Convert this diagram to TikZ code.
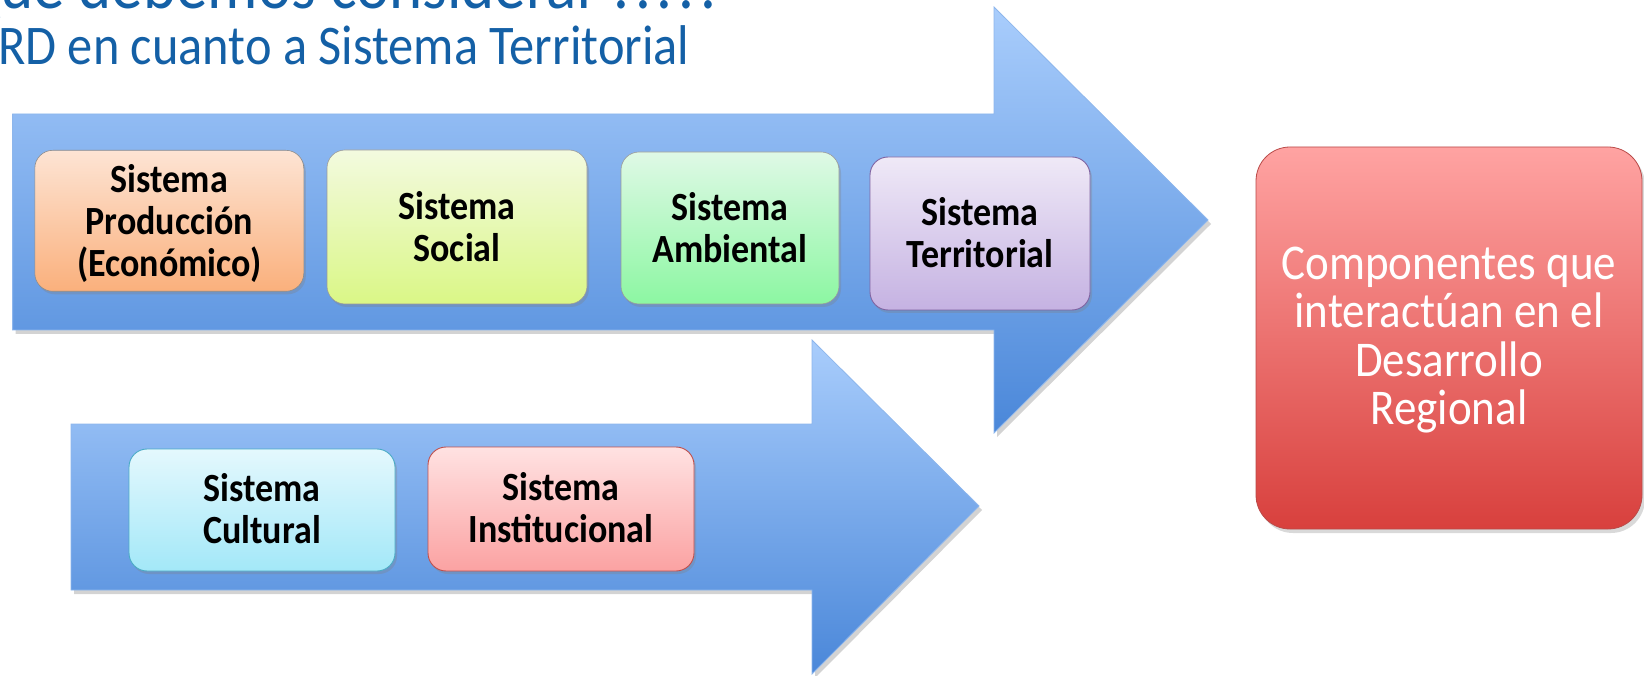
\documentclass[tikz,border=0pt]{standalone}
\usepackage{fontspec}
\setmainfont{Carlito}
\newfontfamily\cf[FakeStretch=0.9]{Carlito}
\usetikzlibrary{shadows}
\definecolor{titleblue}{HTML}{1460A6}
\definecolor{arrowtop}{HTML}{A9CDFC}
\definecolor{arrowbot}{HTML}{4A87D9}
\definecolor{arrowedge}{HTML}{8DB6EC}
\definecolor{prodtop}{HTML}{FDE4D4}
\definecolor{prodbot}{HTML}{FAB07C}
\definecolor{soctop}{HTML}{F3FADF}
\definecolor{socbot}{HTML}{DAF786}
\definecolor{ambtop}{HTML}{DFF9E6}
\definecolor{ambbot}{HTML}{8CF7A2}
\definecolor{tertop}{HTML}{EFE9F7}
\definecolor{terbot}{HTML}{C5B2E2}
\definecolor{teredge}{HTML}{8064A2}
\definecolor{cultop}{HTML}{E4F8FD}
\definecolor{culbot}{HTML}{A3E8F8}
\definecolor{culedge}{HTML}{4BACC6}
\definecolor{insttop}{HTML}{FFE2E2}
\definecolor{instbot}{HTML}{FBA2A2}
\definecolor{instedge}{HTML}{C0504D}
\definecolor{comptop}{HTML}{FFA3A2}
\definecolor{compbot}{HTML}{D8403D}
\definecolor{compedge}{HTML}{B94A48}
\newcommand{\spdots}{.\kern6pt.\kern6pt.\kern6pt.\kern6pt.}
\begin{document}
\begin{tikzpicture}[x=1pt,y=-1pt,
  bigarrow/.style={top color=arrowtop, bottom color=arrowbot, draw=arrowedge, line width=0.8pt,
    drop shadow={shadow xshift=3pt,shadow yshift=-4pt,opacity=0.35}},
  sysbox/.style={rounded corners=18pt, inner sep=0pt,
    drop shadow={shadow xshift=2pt,shadow yshift=-3pt,opacity=0.3}},
  boxtext/.style={align=center, inner sep=0pt,
    font=\cf\bfseries\fontsize{40}{42}\selectfont, text=black},
  compbox/.style={rounded corners=34pt, inner sep=0pt,
    top color=comptop, bottom color=compbot, draw=compedge, line width=0.8pt,
    drop shadow={shadow xshift=3pt,shadow yshift=-4pt,opacity=0.3}},
  comptext/.style={align=center, inner sep=0pt,
    font=\cf\fontsize{50}{48.5}\selectfont, text=white},
  titletext/.style={anchor=base west, inner sep=0pt, text=titleblue}
]
\useasboundingbox (0,0) rectangle (1644,676);

% titles
\node[titletext, font=\cf\fontsize{70}{80}\selectfont] (t1) at (0,9) {\llap{¿Q}ué debemos considerar \spdots};
\node[titletext, font=\cf\fontsize{56}{60}\selectfont] (t2) at (-2,65) {RD en cuanto a Sistema Territorial};

% arrows
\path[bigarrow] (12.6,114) -- (994,114) -- (994,7) -- (1208,220) -- (994,433) -- (994,330) -- (12.6,330) -- cycle;
\path[bigarrow] (71,424) -- (812,424) -- (812,340) -- (979,506) -- (812,674) -- (812,590) -- (71,590) -- cycle;

% boxes upper
\node[sysbox, top color=prodtop, bottom color=prodbot, draw=black!45, line width=0.6pt,
      minimum width=269pt, minimum height=141pt] (prod) at (169.3,220.8) {};
\node[boxtext] (prodt) at ([yshift=-3pt]prod.center) {Sistema\\Producción\\(Económico)};
\node[sysbox, top color=soctop, bottom color=socbot, draw=black!40, line width=0.6pt,
      minimum width=260pt, minimum height=154pt] (soc) at (457,227) {};
\node[boxtext] (soct) at (soc.center) {Sistema\\Social};
\node[sysbox, top color=ambtop, bottom color=ambbot, draw=black!40, line width=0.6pt,
      minimum width=218pt, minimum height=152pt] (amb) at (730,228) {};
\node[boxtext] (ambt) at (amb.center) {Sistema\\Ambiental};
\node[sysbox, top color=tertop, bottom color=terbot, draw=teredge, line width=0.9pt,
      minimum width=220pt, minimum height=153pt] (ter) at (980,233.5) {};
\node[boxtext] (tert) at ([yshift=1pt]ter.center) {Sistema\\Territorial};

% boxes lower
\node[sysbox, top color=cultop, bottom color=culbot, draw=culedge, line width=0.9pt,
      minimum width=266pt, minimum height=122pt] (cul) at (262,510) {};
\node[boxtext] (cult) at ([yshift=1pt]cul.center) {Sistema\\Cultural};
\node[sysbox, top color=insttop, bottom color=instbot, draw=instedge, line width=0.9pt,
      minimum width=266pt, minimum height=124pt] (inst) at (561,509) {};
\node[boxtext] (instt) at ([yshift=1pt]inst.center) {Sistema\\Institucional};

% result box
\node[compbox, minimum width=386pt, minimum height=382pt] (comp) at (1449,338) {};
\node[comptext] (compt) at ([yshift=-2pt]comp.center) {Componentes que\\interactúan en el\\Desarrollo\\Regional};
\end{tikzpicture}
\end{document}
